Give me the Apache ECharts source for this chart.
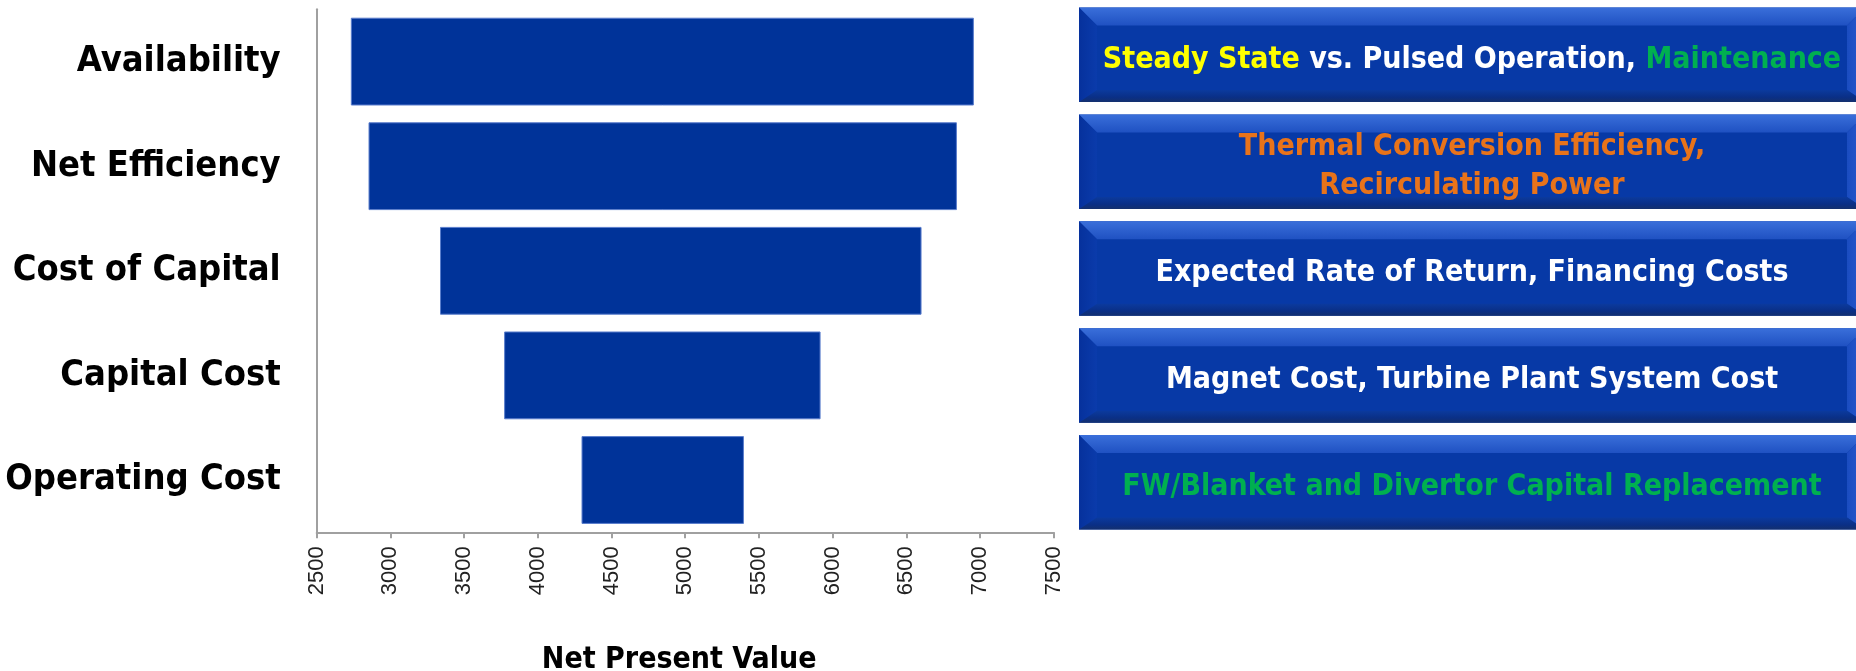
<!DOCTYPE html>
<html>
<head>
<meta charset="utf-8">
<script src="https://cdn.jsdelivr.net/npm/echarts@6/dist/echarts.min.js"></script>
<style>
  html, body { margin: 0; padding: 0; background: #ffffff; }
  #chart { width: 1856px; height: 671px; }
</style>
</head>
<body>
<div id="chart"></div>
<script>
// Sensitivity drivers, top to bottom
const categories = ['Availability', 'Net Efficiency', 'Cost of Capital', 'Capital Cost', 'Operating Cost'];
// Net present value range for each driver (low end, high end)
const lowValues = [2735, 2855, 3340, 3775, 4300];
const highValues = [6955, 6840, 6600, 5915, 5395];
// Value axis range and step
const axisMin = 2500;
const axisMax = 7500;
const axisStep = 500;
const axisTitle = 'Net Present Value';
// Parameters behind each driver, as coloured text runs
const driverNotes = [
  [['yellow', 'Steady State'], ['white', ' vs. Pulsed Operation, '], ['green', 'Maintenance']],
  [['orange', 'Thermal Conversion Efficiency,'], ['br', ''], ['orange', 'Recirculating Power']],
  [['white', 'Expected Rate of Return, Financing Costs']],
  [['white', 'Magnet Cost, Turbine Plant System Cost']],
  [['green', 'FW/Blanket and Divertor Capital Replacement']]
];

const BAR_BLUE = '#003399';
const LABEL_FONT = '"DejaVu Sans Condensed", "Liberation Sans Narrow", "DejaVu Sans", sans-serif';
const NOTE_FONT = '"DejaVu Sans Condensed", "Liberation Sans Narrow", "DejaVu Sans", sans-serif';

const chart = echarts.init(document.getElementById('chart'), null, { renderer: 'canvas' });

const rangeData = categories.map((c, i) => [i, lowValues[i], highValues[i]]);

function renderRange(params, api) {
  const idx = api.value(0);
  const p0 = api.coord([api.value(1), idx]);
  const p1 = api.coord([api.value(2), idx]);
  const h = api.size([0, 1])[1] * 0.83;
  return {
    type: 'rect',
    shape: { x: p0[0], y: p0[1] - h / 2, width: p1[0] - p0[0], height: h },
    style: { fill: BAR_BLUE, stroke: '#5a7dcc', lineWidth: 1 }
  };
}

// Bevelled blue panel holding one line (or two) of coloured text
const noteColors = { yellow: '#ffff00', white: '#ffffff', green: '#00b050', orange: '#e8731a' };
function noteText(runs) {
  return runs.map(r => r[0] === 'br' ? '\n' : '{' + r[0] + '|' + r[1] + '}').join('');
}
function notePanel(i, x, y, w, h) {
  const bt = 18, bb = 12, bs = 18;
  const rich = {};
  Object.keys(noteColors).forEach(k => {
    rich[k] = { fill: noteColors[k], fontSize: 30, fontWeight: 'bold', fontFamily: NOTE_FONT, lineHeight: 39 };
  });
  return {
    type: 'group',
    x: x, y: y,
    children: [
      { type: 'rect', shape: { x: 0, y: 0, width: w, height: h },
        style: { fill: '#0739a6' } },
      { type: 'polygon', shape: { points: [[0, 0], [w, 0], [w - bs, bt], [bs, bt]] },
        style: { fill: new echarts.graphic.LinearGradient(0, 0, 0, 1, [
          { offset: 0, color: '#3a6fda' }, { offset: 1, color: '#1f51c2' }]) } },
      { type: 'polygon', shape: { points: [[0, 0], [bs, bt], [bs, h - bb], [0, h]] },
        style: { fill: new echarts.graphic.LinearGradient(0, 0, 1, 0, [
          { offset: 0, color: '#06319c' }, { offset: 1, color: '#0a3bab' }]) } },
      { type: 'polygon', shape: { points: [[w, 0], [w - bs, bt], [w - bs, h - bb], [w, h]] },
        style: { fill: new echarts.graphic.LinearGradient(0, 0, 1, 0, [
          { offset: 0, color: '#1a4cc0' }, { offset: 1, color: '#2a5cd0' }]) } },
      { type: 'polygon', shape: { points: [[0, h], [bs, h - bb], [w - bs, h - bb], [w, h]] },
        style: { fill: new echarts.graphic.LinearGradient(0, 0, 0, 1, [
          { offset: 0, color: '#0b3a9e' }, { offset: 0.6, color: '#0a2f86' }, { offset: 1, color: '#14306e' }]) } },
      { type: 'text', x: 393, y: h / 2 + 5,
        style: { text: noteText(driverNotes[i]), rich: rich, align: 'center', verticalAlign: 'middle',
          fontSize: 30, fontWeight: 'bold', fontFamily: NOTE_FONT, lineHeight: 39, fill: '#ffffff' } }
    ]
  };
}

const panels = driverNotes.map((n, i) => notePanel(i, 1079, 7.5 + i * 106.9, 786, 94.5));

chart.setOption({
  animation: false,
  backgroundColor: '#ffffff',
  grid: { left: 316.7, top: 9.3, width: 737, height: 523, containLabel: false, outerBoundsMode: 'none' },
  xAxis: {
    type: 'value',
    min: axisMin, max: axisMax, interval: axisStep,
    axisLine: { show: true, lineStyle: { color: '#a0a0a0', width: 2 } },
    axisTick: { show: true, length: 6, lineStyle: { color: '#a0a0a0', width: 2 } },
    splitLine: { show: false },
    axisLabel: { rotate: 90, margin: 14, fontSize: 22, fontFamily: '"Liberation Sans", Arial, sans-serif',
      color: '#222222', formatter: v => String(v) },
    name: axisTitle, nameLocation: 'middle', nameGap: 113,
    nameTextStyle: { fontSize: 30, fontWeight: 'bold', fontFamily: LABEL_FONT, color: '#000000',
      padding: [0, 12, 0, 0] }
  },
  yAxis: {
    type: 'category',
    inverse: true,
    data: categories,
    axisLine: { show: true, lineStyle: { color: '#a0a0a0', width: 2 } },
    axisTick: { show: false },
    axisLabel: { margin: 36, fontSize: 36, fontWeight: 'bold', fontFamily: LABEL_FONT, color: '#000000' }
  },
  series: [{
    type: 'custom',
    renderItem: renderRange,
    encode: { x: [1, 2], y: 0 },
    data: rangeData
  }],
  graphic: panels
});
</script>
</body>
</html>
